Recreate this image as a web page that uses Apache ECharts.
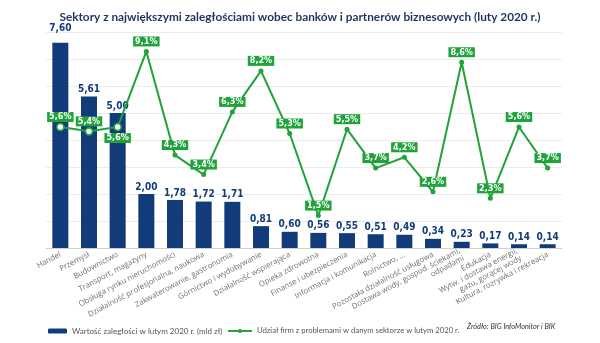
<!DOCTYPE html>
<html>
<head>
<meta charset="utf-8">
<script src="https://cdn.jsdelivr.net/npm/echarts@6/dist/echarts.min.js"></script>
<style>
html,body{margin:0;padding:0;background:#fff;}
#c{width:600px;height:343px;}
</style>
</head>
<body>
<div id="c"></div>
<script>
var categories = [
  'Handel', 'Przemysł', 'Budownictwo', 'Transport, magazyny',
  'Obsługa rynku nieruchomości', 'Działalność profesjonalna, naukowa',
  'Zakwaterowanie, gastronomia', 'Górnictwo i wydobywanie',
  'Działalność wspierająca', 'Opieka zdrowotna', 'Finanse i ubezpieczenia',
  'Informacja i komunikacja', 'Rolnictwo, ...', 'Pozostała działalność usługowa',
  'Dostawa wody, gospod. ściekami,\nodpadami', 'Edukacja',
  'Wytw. i dostawa energii,\ngazu, gorącej wody', 'Kultura, rozrywka i rekreacja'
];
var arrears = [7.60, 5.61, 5.00, 2.00, 1.78, 1.72, 1.71, 0.81, 0.60, 0.56, 0.55, 0.51, 0.49, 0.34, 0.23, 0.17, 0.14, 0.14];
var share = [5.6, 5.4, 5.6, 9.1, 4.3, 3.4, 6.3, 8.2, 5.3, 1.5, 5.5, 3.7, 4.2, 2.6, 8.6, 2.3, 5.6, 3.7];
var barName = 'Wartość zaległości w lutym 2020 r. (mld zł)';
var lineName = 'Udział firm z problemami w danym sektorze w lutym 2020 r.';
var titleText = 'Sektory z największymi zaległościami wobec banków i partnerów biznesowych (luty 2020 r.)';
var sourceText = 'Źródło: BIG InfoMonitor i BIK';

var NAVY = '#123b7a';
var GREEN = '#1fa33a';
var COND = '"DejaVu Sans Condensed", sans-serif';
var LATO = 'Lato, sans-serif';

var barData = arrears.map(function (v, i) {
  var d = { value: v };
  if (i === 0) d.label = { distance: 9 };
  return d;
});
var lineData = share.map(function (v, i) {
  var d = { value: v };
  if (i < 3) {
    d.symbol = 'circle';
    d.symbolSize = 7;
    d.itemStyle = { color: '#fff', borderColor: GREEN, borderWidth: 1.6 };
  }
  if (i === 2) d.label = { offset: [0, 11] };
  return d;
});

var chart = echarts.init(document.getElementById('c'), null, { renderer: 'canvas' });
chart.setOption({
  animation: false,
  backgroundColor: '#fff',
  title: {
    text: titleText,
    left: 'center',
    top: 6,
    textStyle: { fontFamily: LATO, fontWeight: 'bold', fontSize: 11.8, color: '#1c355e' }
  },
  grid: { left: 46, right: 38, top: 32, bottom: 95 },
  legend: [{
    data: [barName],
    left: 43, top: 322,
    itemWidth: 19, itemHeight: 5, itemGap: 10,
    textStyle: { fontFamily: LATO, fontSize: 8, color: '#555' }
  }, {
    data: [lineName],
    left: 222, top: 322,
    itemWidth: 24, itemHeight: 5,
    textStyle: { fontFamily: LATO, fontSize: 7.7, color: '#555' }
  }],
  graphic: [{
    type: 'text', left: 467, top: 323,
    style: { text: sourceText, fontFamily: LATO, fontStyle: 'italic', fontSize: 7.3, fill: '#333' }
  }],
  xAxis: {
    type: 'category',
    data: categories,
    axisTick: { show: false },
    axisLine: { lineStyle: { color: '#d0d0d0' } },
    axisLabel: {
      interval: 0, rotate: 28, margin: 6,
      fontFamily: '"Open Sans", sans-serif', fontSize: 7.8, color: '#707070', lineHeight: 8.5
    }
  },
  yAxis: [{
    type: 'value', min: 0, max: 8, interval: 1,
    axisLabel: { show: false }, axisLine: { show: false }, axisTick: { show: false },
    splitLine: { lineStyle: { color: '#ececec' } }
  }, {
    type: 'value', min: 0, max: 10, interval: 1.25,
    axisLabel: { show: false }, axisLine: { show: false }, axisTick: { show: false },
    splitLine: { show: false }
  }],
  series: [{
    name: barName,
    type: 'bar',
    data: barData,
    barWidth: 16,
    itemStyle: { color: NAVY },
    label: {
      show: true, position: 'top', distance: 2,
      fontFamily: COND, fontWeight: 'bold', fontSize: 10, color: NAVY,
      formatter: function (p) { return p.value.toFixed(2).replace('.', ','); }
    }
  }, {
    name: lineName,
    type: 'line',
    yAxisIndex: 1,
    data: lineData,
    symbol: 'circle',
    symbolSize: 5,
    lineStyle: { color: GREEN, width: 2 },
    itemStyle: { color: GREEN },
    label: {
      show: true, position: 'inside', offset: [0, -10],
      backgroundColor: GREEN, color: '#fff',
      padding: [1, 2, 0, 2],
      fontFamily: COND, fontWeight: 'bold', fontSize: 9,
      formatter: function (p) { return String(p.value).replace('.', ',') + '%'; }
    }
  }]
});
</script>
</body>
</html>
